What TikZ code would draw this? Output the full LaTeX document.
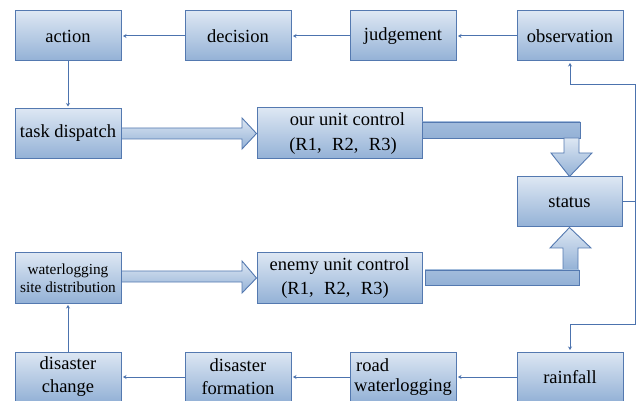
\documentclass[tikz,border=0pt]{standalone}
\usepackage{fontspec}
\setmainfont{Liberation Serif}
\usetikzlibrary{arrows.meta,calc}

\definecolor{boxtop}{HTML}{DDE7F3}
\definecolor{boxbot}{HTML}{93B1D6}
\definecolor{boxline}{HTML}{5479B0}
\definecolor{linkline}{HTML}{4C73AE}

\newcommand{\rsep}{\hspace{10.5pt}}

\tikzset{
  box/.style={draw=boxline, line width=1pt, top color=boxtop, bottom color=boxbot,
    minimum width=106pt, minimum height=50pt, inner sep=0pt, align=center,
    font=\fontsize{18.5}{23}\selectfont},
  widebox/.style={box, minimum width=165pt, minimum height=51pt,
    font=\fontsize{18.5}{24.5}\selectfont},
  conn/.style={draw=linkline, line width=1pt,
    -{Stealth[length=3.5pt,width=4pt]}, shorten >=1.5pt},
  bigarrow/.style={draw=boxline, line width=0.9pt, top color=boxtop, bottom color=boxbot},
  bar/.style={draw=boxline, line width=0.9pt, top color=boxbot!80!boxtop, bottom color=boxbot}
}

\begin{document}
\begin{tikzpicture}[x=1pt,y=-1pt]
  \useasboundingbox (0,0) rectangle (638,401);

  % top row: the decision loop
  \node[box] (act)   at (68,36)  {action};
  \node[box] (dec)   at (238,36) {decision};
  \node[box] (judge) at (403,36) {judgement};
  \node[box] (obs)   at (570,36) {observation};

  % unit control rows
  \node[box] (task) at (68,133.5) {task dispatch};
  \node[widebox] (our) at (339.5,133.5)
    {\hspace*{16pt}our unit control\\\hspace*{7pt}(R1,\rsep R2,\rsep R3)};
  \node[box, minimum width=105pt] (status) at (569.5,202) {status};
  \node[box, font=\fontsize{15.3}{18}\selectfont] (site) at (68,278)
    {waterlogging\\site distribution};
  \node[widebox] (enemy) at (339.5,278)
    {enemy unit control\\(R1,\rsep R2,\rsep R3)\hspace*{9pt}};

  % bottom row: the disaster chain
  \node[box] (chg)  at (68,377)  {disaster\\change};
  \node[box] (form) at (238,377) {disaster\\formation};
  \node[box, align=left, font=\fontsize{18.5}{20.5}\selectfont] (road) at (403,377)
    {\hspace*{2pt}road\\waterlogging};
  \node[box] (rain) at (570,377) {rainfall};

  % thin connectors
  \draw[conn] (obs) -- (judge);
  \draw[conn] (judge) -- (dec);
  \draw[conn] (dec) -- (act);
  \draw[conn] (act) -- (task);
  \draw[conn] (rain) -- (road);
  \draw[conn] (road) -- (form);
  \draw[conn] (form) -- (chg);
  \draw[conn] (chg) -- (site);

  \coordinate (rtop) at (635,85);
  \coordinate (rbot) at (635,324);
  \draw[conn] (status.east) -| (rtop) -| (obs.south);
  \draw[conn] (status.east) -| (rbot) -| (rain.north);

  % block arrows into the unit control boxes
  \draw[bigarrow] (task.east |- 0,128) -- (242,128) -- (242,118) -- (our.west)
    -- (242,149) -- (242,139) -- (task.east |- 0,139) -- cycle;
  \draw[bigarrow] (site.east |- 0,271) -- (242,271) -- (242,261) -- (enemy.west)
    -- (242,293) -- (242,282) -- (site.east |- 0,282) -- cycle;

  % our unit control feeding status from above
  \draw[bar] (our.east |- 0,122) rectangle (580,138);
  \draw[bigarrow] (564,138) -- (579,138) -- (579,153) -- (592,153) -- (status.north)
    -- (551,153) -- (564,153) -- cycle;

  % enemy unit control feeding status from below
  \draw[bigarrow] (563,270) -- (563,248) -- (550,248) -- (status.south)
    -- (591,248) -- (578,248) -- (578,270) -- cycle;
  \draw[bar] (425,270) rectangle (579,285);
\end{tikzpicture}
\end{document}
